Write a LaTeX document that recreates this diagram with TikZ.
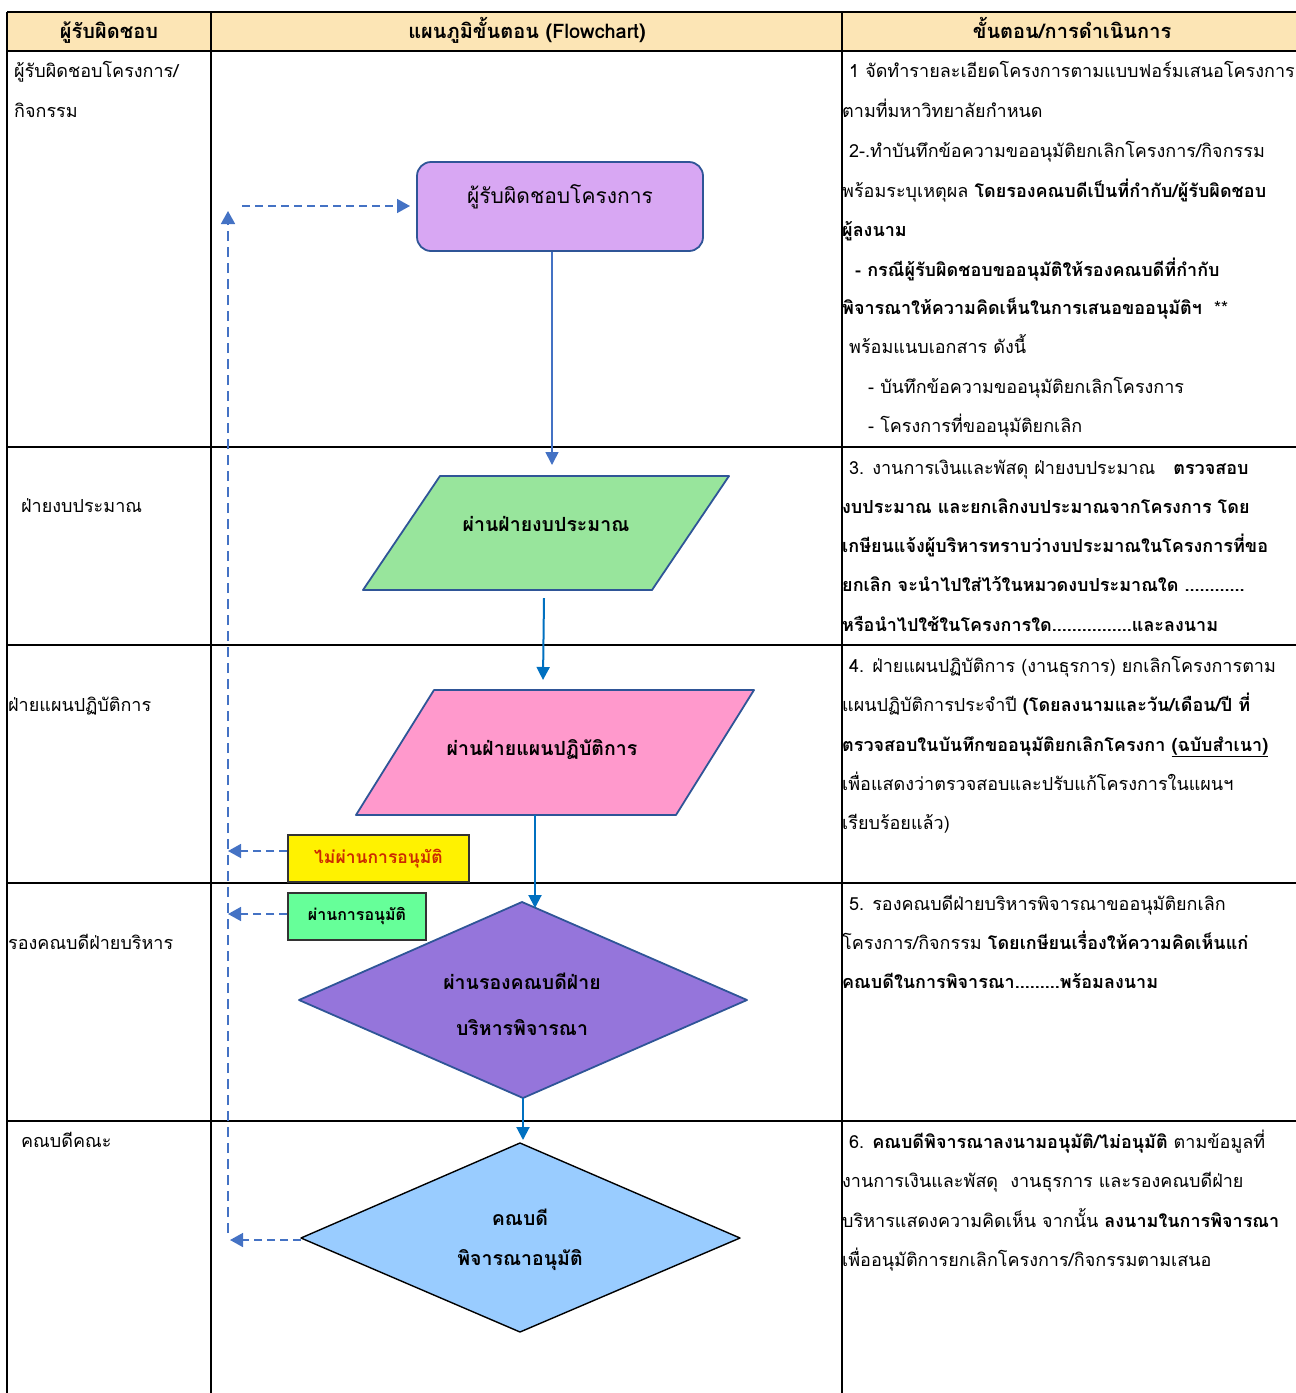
\documentclass[tikz,border=0pt]{standalone}
\usepackage{fontspec}
\setmainfont{Loma}[Script=Thai]
\usetikzlibrary{arrows.meta}
\definecolor{hdr}{HTML}{FCE5B5}
\definecolor{edge}{HTML}{2F5597}
\definecolor{lnA}{HTML}{4472C4}
\definecolor{lnB}{HTML}{0070C0}
\definecolor{violetF}{HTML}{D8A7F3}
\definecolor{greenF}{HTML}{98E59C}
\definecolor{pinkF}{HTML}{FF99CC}
\definecolor{purpleF}{HTML}{9575DB}
\definecolor{blueF}{HTML}{99CCFF}
\definecolor{passF}{HTML}{66FF99}
\definecolor{noText}{HTML}{CC2A00}
\tikzset{
  grid/.style={line width=1.6pt, black},
  txt/.style={anchor=base west, inner sep=0pt, font=\fontsize{18}{21}\selectfont},
  hd/.style={anchor=base, inner sep=0pt, font=\fontsize{20}{22}\selectfont\bfseries},
  shp/.style={draw=edge, line width=1.8pt, line join=round},
  ftxt/.style={anchor=base, inner sep=0pt, font=\fontsize{19.5}{22}\selectfont\bfseries},
  solidA/.style={lnA, line width=1.6pt, -{Triangle[length=13pt,width=13pt]}},
  solidB/.style={lnB, line width=2pt, -{Triangle[length=13pt,width=13pt]}},
  dashA/.style={lnA, line width=1.6pt, dash pattern=on 8pt off 5pt, -{Triangle[length=13pt,width=14pt]}},
}
\begin{document}
\begin{tikzpicture}[x=1pt,y=-1pt]
\useasboundingbox (0,0) rectangle (1296,1393);
% header band
\fill[hdr] (7,12) rectangle (1296,51);
% grid
\draw[grid] (7,12) -- (1296,12);
\draw[grid] (7,51) -- (1296,51);
\foreach \yy in {447,645,883,1121} \draw[grid] (7,\yy) -- (1296,\yy);
\foreach \xx in {7,211,842} \draw[grid] (\xx,12) -- (\xx,1393);
% header texts
\node[hd] (h1) at (109,38) {ผู้รับผิดชอบ};
\node[hd] (h2) at (527,38) {แผนภูมิขั้นตอน (Flowchart)};
\node[hd] (h3) at (1072,38) {ขั้นตอน/การดำเนินการ};
% left column
\node[txt] (l1a) at (14,77) {ผู้รับผิดชอบโครงการ/};
\node[txt] (l1b) at (14,117) {กิจกรรม};
\node[txt] (l2) at (21,512) {ฝ่ายงบประมาณ};
\node[txt] (l3) at (8,711) {ฝ่ายแผนปฏิบัติการ};
\node[txt] (l4) at (8,949) {รองคณบดีฝ่ายบริหาร};
\node[txt] (l5) at (21,1147) {คณบดีคณะ};
% right column, block 1
\node[txt] (r1) at (849,77) {1 จัดทำรายละเอียดโครงการตามแบบฟอร์มเสนอโครงการ};
\node[txt] (r2) at (842,117) {ตามที่มหาวิทยาลัยกำหนด};
\node[txt] (r3) at (849,157) {2-.ทำบันทึกข้อความขออนุมัติยกเลิกโครงการ/กิจกรรม};
\node[txt] (r4) at (842,197) {พร้อมระบุเหตุผล \textbf{โดยรองคณบดีเป็นที่กำกับ/ผู้รับผิดชอบ}};
\node[txt] (r5) at (842,236) {\textbf{ผู้ลงนาม}};
\node[txt] (r6) at (855,276) {\textbf{- กรณีผู้รับผิดชอบขออนุมัติให้รองคณบดีที่กำกับ}};
\node[txt] (r7) at (842,314) {\textbf{พิจารณาให้ความคิดเห็นในการเสนอขออนุมัติฯ}\ \ **};
\node[txt] (r8) at (849,353) {พร้อมแนบเอกสาร ดังนี้};
\node[txt] (r9) at (868,393) {- บันทึกข้อความขออนุมัติยกเลิกโครงการ};
\node[txt] (r10) at (868,432) {- โครงการที่ขออนุมัติยกเลิก};
% block 3
\node[txt] (s1) at (849,474) {3. งานการเงินและพัสดุ ฝ่ายงบประมาณ\ \ \ \textbf{ตรวจสอบ}};
\node[txt] (s2) at (842,513) {\textbf{งบประมาณ และยกเลิกงบประมาณจากโครงการ โดย}};
\node[txt] (s3) at (842,552) {\textbf{เกษียนแจ้งผู้บริหารทราบว่างบประมาณในโครงการที่ขอ}};
\node[txt] (s4) at (842,591) {\textbf{ยกเลิก จะนำไปใส่ไว้ในหมวดงบประมาณใด ............}};
\node[txt] (s5) at (842,631) {\textbf{หรือนำไปใช้ในโครงการใด................และลงนาม}};
% block 4
\node[txt] (t1) at (849,672) {4. ฝ่ายแผนปฏิบัติการ (งานธุรการ) ยกเลิกโครงการตาม};
\node[txt] (t2) at (842,711) {แผนปฏิบัติการประจำปี \textbf{(โดยลงนามและวัน/เดือน/ปี ที่}};
\node[txt] (t3) at (842,751) {\textbf{ตรวจสอบในบันทึกขออนุมัติยกเลิกโครงกา \underline{(ฉบับสำเนา)}}};
\node[txt] (t4) at (842,790) {เพื่อแสดงว่าตรวจสอบและปรับแก้โครงการในแผนฯ};
\node[txt] (t5) at (842,829) {เรียบร้อยแล้ว)};
% block 5
\node[txt] (u1) at (849,910) {5. รองคณบดีฝ่ายบริหารพิจารณาขออนุมัติยกเลิก};
\node[txt] (u2) at (842,949) {โครงการ/กิจกรรม \textbf{โดยเกษียนเรื่องให้ความคิดเห็นแก่}};
\node[txt] (u3) at (842,988) {\textbf{คณบดีในการพิจารณา.........พร้อมลงนาม}};
% block 6
\node[txt] (v1) at (849,1148) {6. \textbf{คณบดีพิจารณาลงนามอนุมัติ/ไม่อนุมัติ} ตามข้อมูลที่};
\node[txt] (v2) at (842,1187) {งานการเงินและพัสดุ\ \ งานธุรการ และรองคณบดีฝ่าย};
\node[txt] (v3) at (842,1227) {บริหารแสดงความคิดเห็น จากนั้น \textbf{ลงนามในการพิจารณา}};
\node[txt] (v4) at (842,1266) {เพื่ออนุมัติการยกเลิกโครงการ/กิจกรรมตามเสนอ};

% ---- flowchart ----
% start box
\node[shp, fill=violetF, rounded corners=14pt, minimum width=286pt, minimum height=89pt, inner sep=0pt] (resp) at (560,206.5) {};
\node[anchor=base, inner sep=0pt, font=\fontsize{21}{24}\selectfont] (resptxt) at (560,203) {ผู้รับผิดชอบโครงการ};
% green parallelogram
\coordinate (g1) at (363,590); \coordinate (g2) at (440,476);
\coordinate (g3) at (729,476); \coordinate (g4) at (652,590);
\draw[shp, fill=greenF] (g1) -- (g2) -- (g3) -- (g4) -- cycle;
\node[ftxt] (budget) at (546,531) {ผ่านฝ่ายงบประมาณ};
% pink parallelogram
\coordinate (p1) at (356,815); \coordinate (p2) at (434,690);
\coordinate (p3) at (754,690); \coordinate (p4) at (676,815);
\draw[shp, fill=pinkF] (p1) -- (p2) -- (p3) -- (p4) -- cycle;
\node[ftxt] (plan) at (542,755) {ผ่านฝ่ายแผนปฏิบัติการ};
% purple diamond
\coordinate (d1l) at (299,1000); \coordinate (d1t) at (522,902);
\coordinate (d1r) at (747,1000); \coordinate (d1b) at (523,1098);
\draw[shp, fill=purpleF] (d1l) -- (d1t) -- (d1r) -- (d1b) -- cycle;
\node[ftxt] (vice1) at (522,989) {ผ่านรองคณบดีฝ่าย};
\node[ftxt] (vice2) at (522,1035) {บริหารพิจารณา};
% blue diamond
\coordinate (d2l) at (301,1238); \coordinate (d2t) at (520,1143);
\coordinate (d2r) at (740,1238); \coordinate (d2b) at (520,1332);
\draw[draw=black, line width=1.4pt, line join=round, fill=blueF] (d2l) -- (d2t) -- (d2r) -- (d2b) -- cycle;
\node[ftxt] (dean1) at (520,1225) {คณบดี};
\node[ftxt] (dean2) at (520,1265) {พิจารณาอนุมัติ};
% result labels
\node[draw=black!80, line width=1.2pt, fill=yellow, minimum width=181pt, minimum height=47pt, inner sep=0pt, font=\fontsize{17.5}{20}\selectfont\bfseries, text=noText] (nopass) at (378.5,858.5) {ไม่ผ่านการอนุมัติ};
\node[draw=black!80, line width=1.2pt, fill=passF, minimum width=138pt, minimum height=47pt, inner sep=0pt, font=\fontsize{16}{18}\selectfont\bfseries] (pass) at (357,916.5) {ผ่านการอนุมัติ};

% solid connectors
\coordinate (a1e) at (552,465);
\draw[solidA] ([xshift=-8pt]resp.south) -- (a1e);
\coordinate (a2s) at (544,598); \coordinate (a2e) at (543,680);
\draw[solidB] (a2s) -- (a2e);
\coordinate (a3s) at (535,815); \coordinate (a3e) at (535,908);
\draw[solidB] (a3s) -- (a3e);
\coordinate (a4e) at (523,1140);
\draw[solidB] (d1b) -- (a4e);

% dashed return path
\coordinate (vbot) at (228,1233); \coordinate (vtop) at (228,211);
\draw[dashA, dash pattern=on 10pt off 6pt] (vbot) -- (vtop);
\coordinate (hst) at (242,206); \coordinate (hend) at (410,206);
\draw[dashA] (hst) -- (hend);
\coordinate (nopassE) at (228,851);
\draw[dashA] (nopass.west |- nopassE) -- (nopassE);
\coordinate (passE) at (228,914);
\draw[dashA] (pass.west |- passE) -- (passE);
\coordinate (deanE) at (230,1240);
\draw[dashA] (d2l |- deanE) -- (deanE);
\end{tikzpicture}
\end{document}
